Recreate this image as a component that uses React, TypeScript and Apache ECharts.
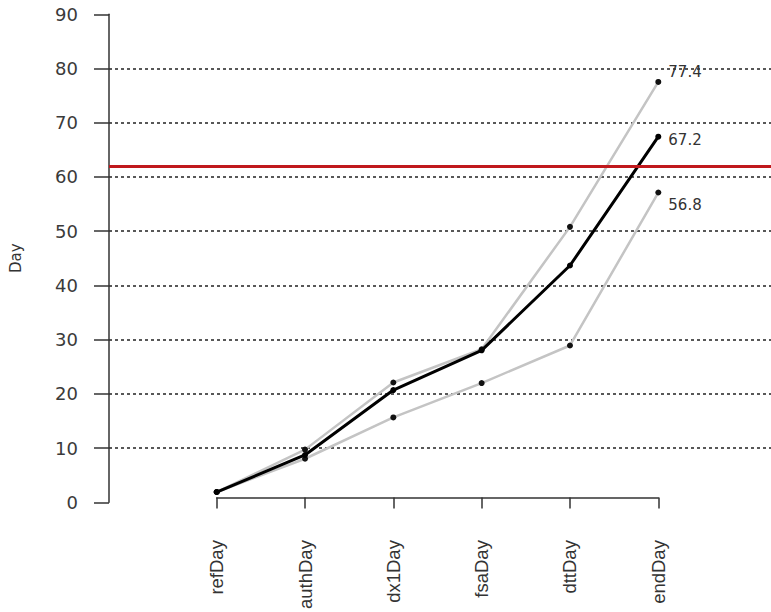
import React, { useEffect, useRef } from "react";
import * as echarts from "echarts";

// Milestones along the x axis
const categories = ["refDay", "authDay", "dx1Day", "fsaDay", "dttDay", "endDay"];
// Mean day at each milestone, with upper and lower bands
const meanDays = [1, 7.9, 20, 27.4, 43.2, 67.2];
const upperDays = [1, 8.9, 21.4, 27.6, 50.4, 77.4];
const lowerDays = [1, 7.2, 14.9, 21.3, 28.3, 56.8];
// Target line
const targetDay = 62;
// Y axis range
const yMin = 0;
const yMax = 90;
const yStep = 10;

const FONT = "'DejaVu Sans', sans-serif";
const SANS = "'Liberation Sans', Arial, sans-serif";
const INK = "#333";

// Put a value label on the last point only
function withEndLabel(values: number[], offsetY: number) {
  return values.map((v, i) =>
    i === values.length - 1
      ? {
          value: v,
          label: {
            show: true,
            position: "right",
            distance: 7,
            offset: [0, offsetY],
            formatter: "{c}",
            fontSize: 15,
            color: INK,
            fontFamily: FONT,
          },
        }
      : v
  );
}

export default function App() {
  const ref = useRef<HTMLDivElement>(null);

  useEffect(() => {
    if (!ref.current) return;
    const chart = echarts.init(ref.current, null, { renderer: "svg" });

    const plotTop = 14.3;
    const plotHeight = 488;

    chart.setOption({
      animation: false,
      backgroundColor: "#ffffff",
      grid: [
        // full-width panel: y axis, dotted grid and target line
        { left: 106, right: 0, top: plotTop, height: plotHeight },
        // data panel: categories from refDay to endDay
        { left: 216.7, right: 112.7, top: plotTop, height: plotHeight },
      ],
      xAxis: [
        { type: "value", gridIndex: 0, min: 0, max: 1, show: false },
        {
          type: "category",
          gridIndex: 1,
          data: categories,
          boundaryGap: false,
          offset: 19.7,
          axisLine: { show: true, lineStyle: { color: INK, width: 1.5 } },
          axisTick: { show: true, length: 11, lineStyle: { color: INK, width: 1.5 } },
          axisLabel: {
            rotate: 90,
            margin: 23,
            fontSize: 18.5,
            color: INK,
            fontFamily: SANS,
            interval: 0,
          },
          splitLine: { show: false },
        },
      ],
      yAxis: [
        {
          type: "value",
          gridIndex: 0,
          min: yMin,
          max: yMax,
          interval: yStep,
          name: "Day",
          nameLocation: "middle",
          nameGap: 86,
          nameRotate: 90,
          nameTextStyle: { fontSize: 15, color: INK, fontFamily: FONT },
          axisLine: { show: true, lineStyle: { color: INK, width: 1.5 } },
          axisTick: { show: true, length: 15, lineStyle: { color: INK, width: 1.5 } },
          axisLabel: {
            margin: 31,
            fontSize: 18,
            color: "#3a3a3a",
            fontFamily: FONT,
          },
          splitLine: {
            show: true,
            showMinLine: false,
            showMaxLine: false,
            lineStyle: { color: "#222", width: 1.5, type: [3, 3] },
          },
        },
        {
          type: "value",
          gridIndex: 1,
          min: yMin,
          max: yMax,
          interval: yStep,
          show: false,
          splitLine: { show: false },
        },
      ],
      series: [
        {
          type: "line",
          xAxisIndex: 0,
          yAxisIndex: 0,
          data: [],
          silent: true,
          markLine: {
            silent: true,
            symbol: "none",
            label: { show: false },
            lineStyle: { color: "#c0181c", width: 3, type: "solid" },
            data: [{ yAxis: targetDay }],
          },
        },
        {
          type: "line",
          xAxisIndex: 1,
          yAxisIndex: 1,
          data: withEndLabel(upperDays, -10),
          symbol: "circle",
          symbolSize: 6,
          itemStyle: { color: "#111" },
          lineStyle: { color: "#c4c4c4", width: 2.5 },
          z: 3,
        },
        {
          type: "line",
          xAxisIndex: 1,
          yAxisIndex: 1,
          data: withEndLabel(lowerDays, 12),
          symbol: "circle",
          symbolSize: 6,
          itemStyle: { color: "#111" },
          lineStyle: { color: "#c4c4c4", width: 2.5 },
          z: 3,
        },
        {
          type: "line",
          xAxisIndex: 1,
          yAxisIndex: 1,
          data: withEndLabel(meanDays, 3),
          symbol: "circle",
          symbolSize: 6,
          itemStyle: { color: "#000" },
          lineStyle: { color: "#000", width: 3 },
          z: 4,
        },
      ],
    });

    return () => chart.dispose();
  }, []);

  return (
    <div
      ref={ref}
      style={{ position: "fixed", left: 0, top: 0, width: 771, height: 612 }}
    />
  );
}
